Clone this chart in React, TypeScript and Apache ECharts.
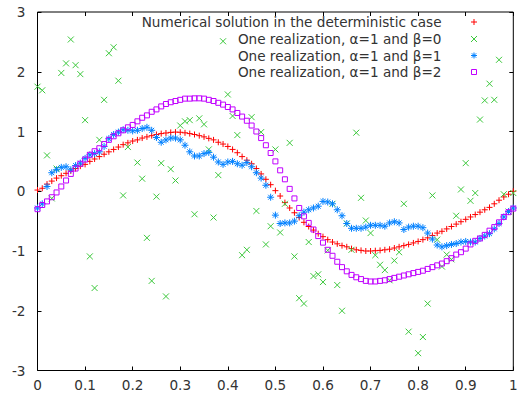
import React, { useEffect, useRef } from "react";
import * as echarts from "echarts";

// x grid: 101 samples from 0 to 1
const X_STEP = 0.01;

// Numerical solution in the deterministic case
const deterministic: number[] = [
  0.02, 0.05, 0.12, 0.17, 0.22, 0.26, 0.3, 0.34, 0.38, 0.42,
  0.45, 0.5, 0.54, 0.58, 0.62, 0.66, 0.7, 0.74, 0.78, 0.81,
  0.84, 0.86, 0.89, 0.91, 0.93, 0.95, 0.965, 0.975, 0.985, 0.99,
  0.987, 0.978, 0.965, 0.95, 0.93, 0.91, 0.885, 0.86, 0.82, 0.79,
  0.75, 0.7, 0.645, 0.58, 0.52, 0.46, 0.38, 0.29, 0.2, 0.11,
  0.01, -0.08, -0.19, -0.28, -0.36, -0.44, -0.52, -0.59, -0.65, -0.71,
  -0.76, -0.81, -0.85, -0.88, -0.91, -0.93, -0.96, -0.98, -0.99, -1.0,
  -1.0, -0.995, -0.99, -0.98, -0.97, -0.95, -0.93, -0.91, -0.89, -0.865,
  -0.84, -0.81, -0.78, -0.74, -0.7, -0.67, -0.63, -0.59, -0.55, -0.51,
  -0.47, -0.43, -0.39, -0.35, -0.31, -0.27, -0.21, -0.15, -0.095, -0.05,
  0.0,
];

// One realization, alpha=1 and beta=0 (null = not visible)
const beta0: (number | null)[] = [
  1.75, 1.69, 0.6, -0.12, 0.38, 1.98, 2.14, 2.54, 2.11, 1.96,
  1.19, -1.09, -1.62, 0.86, 1.53, 2.31, 2.41, 1.85, -0.07, 0.74,
  null, 0.48, 0.21, -0.78, -1.5, -0.09, 0.47, -1.76, 0.37, 0.18,
  1.1, 1.17, 1.19, -0.385, 1.22, 1.12, 0.7, -0.44, 0.27, 2.51,
  1.62, 1.26, 0.94, -1.07, -0.98, 1.24, -0.33, 0.99, -0.89, -0.585,
  0.7, -0.69, -0.21, 0.81, -1.09, -1.79, -1.88, -0.85, -1.42, -1.39,
  -1.52, -0.99, -0.21, -1.57, -2.0, -0.54, -0.98, 0.98, -0.11, -0.49,
  -0.7, -1.07, -1.23, -1.32, -1.49, -1.16, -1.02, -0.21, -2.35, null,
  -2.71, -2.44, -1.88, -0.07, -0.81, -1.26, -1.06, -1.14, -0.41, 0.03,
  0.47, -0.16, -0.03, 1.2, 1.52, 1.8, 1.53, 2.2, -0.05, -0.34,
  -0.03,
];

// One realization, alpha=1 and beta=1
const beta1: number[] = [
  -0.28, -0.21, 0.08, 0.31, 0.36, 0.4, 0.41, 0.36, 0.43, 0.47,
  0.55, 0.61, 0.63, 0.66, 0.75, 0.88, 0.95, 0.99, 1.03, 1.02,
  1.01, 1.02, 1.05, 1.07, 1.02, 0.9, 0.82, 0.86, 0.89, 0.89,
  0.86, 0.77, 0.66, 0.59, 0.59, 0.63, 0.65, 0.57, 0.49, 0.45,
  0.49, 0.5, 0.46, 0.435, 0.48, 0.41, 0.31, 0.22, 0.1, -0.1,
  -0.4, -0.54, -0.53, -0.53, -0.5, -0.41, -0.35, -0.31, -0.28, -0.25,
  -0.17, -0.18, -0.21, -0.31, -0.41, -0.54, -0.62, -0.62, -0.62, -0.6,
  -0.57, -0.57, -0.57, -0.585, -0.53, -0.51, -0.53, -0.64, -0.6, -0.585,
  -0.585, -0.61, -0.7, -0.8, -0.9, -0.93, -0.91, -0.89, -0.875, -0.85,
  -0.84, -0.85, -0.85, -0.79, -0.75, -0.71, -0.63, -0.54, -0.43, -0.34,
  -0.28,
];

// One realization, alpha=1 and beta=2
const beta2: number[] = [
  -0.3, -0.23, -0.17, -0.1, -0.02, 0.08, 0.18, 0.29, 0.38, 0.46,
  0.53, 0.61, 0.67, 0.72, 0.79, 0.86, 0.92, 0.97, 1.02, 1.07,
  1.11, 1.17, 1.23, 1.27, 1.33, 1.37, 1.42, 1.46, 1.49, 1.51,
  1.53, 1.55, 1.55, 1.555, 1.555, 1.55, 1.53, 1.51, 1.48, 1.45,
  1.41, 1.37, 1.31, 1.25, 1.18, 1.1, 1.0, 0.89, 0.77, 0.64,
  0.5, 0.35, 0.2, 0.04, -0.12, -0.28, -0.42, -0.53, -0.64, -0.75,
  -0.86, -0.98, -1.08, -1.18, -1.27, -1.34, -1.4, -1.44, -1.47, -1.5,
  -1.51, -1.51, -1.5, -1.49, -1.47, -1.45, -1.43, -1.41, -1.39, -1.37,
  -1.35, -1.33, -1.3, -1.27, -1.24, -1.21, -1.17, -1.12, -1.06, -1.02,
  -0.96, -0.89, -0.83, -0.79, -0.73, -0.66, -0.6, -0.52, -0.43, -0.35,
  -0.29,
];

const seriesNames = [
  "Numerical solution in the deterministic case",
  "One realization, \u03b1=1 and \u03b2=0",
  "One realization, \u03b1=1 and \u03b2=1",
  "One realization, \u03b1=1 and \u03b2=2",
];
const seriesColors = ["#ff0000", "#3cc83c", "#0080ff", "#c000ff"];

const PLUS = "path://M0,5L10,5M5,0L5,10";
const CROSS = "path://M0,0L10,10M0,10L10,0";
const STAR = "path://M0,5L10,5M5,0L5,10M1.5,1.5L8.5,8.5M1.5,8.5L8.5,1.5";

const FONT = "DejaVu Sans";
const FONT_SIZE = 13.6;
const TEXT_COLOR = "#333";

function toPairs(ys: (number | null)[]) {
  const out: number[][] = [];
  ys.forEach((y, i) => {
    if (y !== null && y !== undefined) out.push([Number((i * X_STEP).toFixed(2)), y]);
  });
  return out;
}

function legendGraphics() {
  const items: any[] = [];
  const rowY = [22, 39, 55.5, 72];
  const textRight = 441.5;
  const cx = 474;
  const h = 3;
  seriesNames.forEach((name, k) => {
    const y = rowY[k];
    const c = seriesColors[k];
    items.push({
      type: "text",
      x: textRight,
      y,
      silent: true,
      style: {
        text: name,
        fill: TEXT_COLOR,
        fontSize: FONT_SIZE,
        fontFamily: FONT,
        align: "right",
        verticalAlign: "middle",
      },
    });
    const ls = { stroke: c, lineWidth: 1 };
    if (k === 0 || k === 2) {
      items.push({ type: "line", silent: true, shape: { x1: cx - h, y1: y, x2: cx + h, y2: y }, style: ls });
      items.push({ type: "line", silent: true, shape: { x1: cx, y1: y - h, x2: cx, y2: y + h }, style: ls });
    }
    if (k === 1 || k === 2) {
      const d = k === 2 ? 2.2 : h;
      items.push({ type: "line", silent: true, shape: { x1: cx - d, y1: y - d, x2: cx + d, y2: y + d }, style: ls });
      items.push({ type: "line", silent: true, shape: { x1: cx - d, y1: y + d, x2: cx + d, y2: y - d }, style: ls });
    }
    if (k === 3) {
      items.push({
        type: "rect",
        silent: true,
        shape: { x: cx - 2.5, y: y - 2.5, width: 5, height: 5 },
        style: { fill: "none", stroke: c, lineWidth: 1 },
      });
    }
  });
  return items;
}

export default function App() {
  const ref = useRef<HTMLDivElement>(null);

  useEffect(() => {
    if (!ref.current) return;
    const chart = echarts.init(ref.current, null, { renderer: "svg" });

    const tickStyle = { color: "#000", width: 1 };
    const xAxisBase = {
      type: "value" as const,
      min: 0,
      max: 1,
      interval: 0.1,
      axisLine: { show: false, onZero: false },
      splitLine: { show: false },
      axisTick: { show: true, inside: true, length: 4, lineStyle: tickStyle },
    };
    const yAxisBase = {
      type: "value" as const,
      min: -3,
      max: 3,
      interval: 1,
      axisLine: { show: false, onZero: false },
      splitLine: { show: false },
      axisTick: { show: true, inside: true, length: 4, lineStyle: tickStyle },
    };

    const mkScatter = (idx: number, data: (number | null)[], symbol: string, size: number) => ({
      type: "scatter" as const,
      name: seriesNames[idx],
      data: toPairs(data),
      symbol,
      symbolSize: size,
      silent: true,
      itemStyle: { color: "transparent", borderColor: seriesColors[idx], borderWidth: 1, opacity: 1 },
      emphasis: { disabled: true },
      clip: true,
    });

    chart.setOption({
      animation: false,
      backgroundColor: "#ffffff",
      textStyle: { fontFamily: FONT },
      grid: {
        left: 37.5,
        right: 7.7,
        top: 12,
        bottom: 28.5,
        show: true,
        borderColor: "#000",
        borderWidth: 1,
        backgroundColor: "transparent",
      },
      xAxis: [
        {
          ...xAxisBase,
          position: "bottom",
          axisLabel: {
            color: TEXT_COLOR,
            fontSize: FONT_SIZE,
            fontFamily: FONT,
            margin: 7,
            formatter: (v: number) => String(Math.round(v * 10) / 10),
          },
        },
        { ...xAxisBase, position: "top", axisLabel: { show: false } },
      ],
      yAxis: [
        {
          ...yAxisBase,
          position: "left",
          axisLabel: {
            color: TEXT_COLOR,
            fontSize: FONT_SIZE,
            fontFamily: FONT,
            margin: 12,
            formatter: (v: number) => String(Math.round(v)),
          },
        },
        { ...yAxisBase, position: "right", axisLabel: { show: false } },
      ],
      series: [
        mkScatter(0, deterministic, PLUS, 6),
        mkScatter(1, beta0, CROSS, 6),
        mkScatter(2, beta1, STAR, 7),
        mkScatter(3, beta2, "rect", 5),
      ],
      graphic: legendGraphics(),
    });

    return () => chart.dispose();
  }, []);

  return (
    <div
      ref={ref}
      style={{ position: "fixed", left: 0, top: 0, width: 521, height: 399, background: "#fff" }}
    />
  );
}
